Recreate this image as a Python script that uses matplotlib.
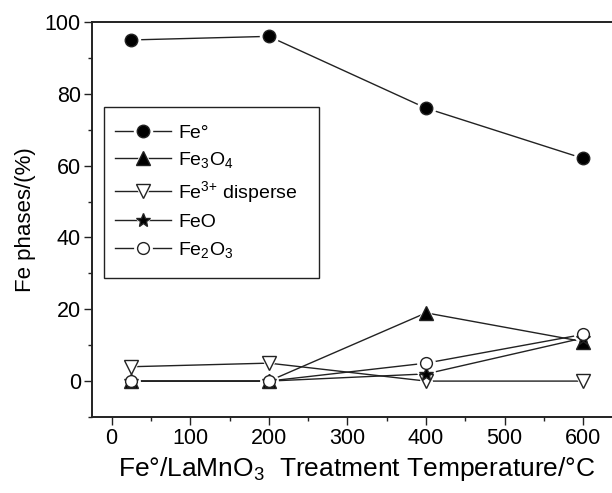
import matplotlib
matplotlib.use("Agg")
import matplotlib.pyplot as plt
from matplotlib.ticker import MultipleLocator
from matplotlib.legend_handler import HandlerTuple
from matplotlib.patches import Rectangle

plt.rcParams['font.family'] = 'Liberation Sans'
plt.rcParams['mathtext.fontset'] = 'custom'
plt.rcParams['mathtext.rm'] = 'Liberation Sans'

# treatment temperatures (°C)
temps = [25, 200, 400, 600]

# Fe phase percentages
fe0 = [95, 96, 76, 62]
fe3o4 = [0, 0, 19, 11]
fe3_disperse = [4, 5, 0, 0]
feo = [0, 0, 2, 12]
fe2o3 = [0, 0, 5, 13]

labels = ['Fe°', r'Fe$\mathregular{_3}$O$\mathregular{_4}$',
          r'Fe$\mathregular{^{3{+}}}$ disperse', 'FeO',
          r'Fe$\mathregular{_2}$O$\mathregular{_3}$']

series = [fe0, fe3o4, fe3_disperse, feo, fe2o3]
styles = [('o', 'k', 9), ('^', 'k', 9.5), ('v', 'white', 9.5), ('*', 'k', 10), ('o', 'white', 8.5)]

fig = plt.figure(figsize=(6.12, 4.93), dpi=100)
ax = fig.add_axes([92 / 612, 1 - 417 / 493, 530.6 / 612, 395 / 493])

handles = []
for vals, (m, fc, ms) in zip(series, styles):
    ln, = ax.plot(temps, vals, '-', color='#222222', lw=1.0, zorder=2)
    gap, = ax.plot(temps, vals, ls='none', marker=m, ms=ms + 4, mfc='white',
                   mec='white', zorder=3)
    mk, = ax.plot(temps, vals, ls='none', marker=m, ms=ms, mfc=fc,
                  mec='#222222', mew=1.0, zorder=4)
    handles.append((ln, gap, mk))

ax.set_xlim(-25, 650)
ax.set_ylim(-10, 100)
ax.xaxis.set_major_locator(MultipleLocator(100))
ax.xaxis.set_minor_locator(MultipleLocator(50))
ax.yaxis.set_major_locator(MultipleLocator(20))
ax.yaxis.set_minor_locator(MultipleLocator(10))
ax.tick_params(which='both', direction='out', top=False, right=False,
               labelsize=15.5, width=1.0, color='#222222', pad=2.5)
ax.tick_params(which='major', length=5.5)
ax.tick_params(which='minor', length=3)
for s in ax.spines.values():
    s.set_linewidth(1.4)
    s.set_color('#222222')

ax.set_xlabel(r'Fe°/LaMnO$\mathregular{_3}$  Treatment Temperature/°C', fontsize=19)
ax.xaxis.set_label_coords((357 - 92) / 530.6, -0.097)
ax.set_ylabel('Fe phases/(%)', fontsize=16, labelpad=6)

# legend frame drawn separately (Origin-style box with extra right margin)
ax.add_patch(Rectangle((0.0226, 0.352), 0.405, 0.433, transform=ax.transAxes,
                       fill=True, facecolor='white', edgecolor='#222222',
                       lw=1.0, zorder=5))
leg = ax.legend(handles, labels, handler_map={tuple: HandlerTuple(ndivide=1)},
                loc='upper left', bbox_to_anchor=(0.0433, 0.742),
                fontsize=14, frameon=False, handlelength=2.9,
                handletextpad=0.36, labelspacing=0.45, borderpad=0,
                borderaxespad=0)
leg.set_zorder(6)

fig.savefig('out.png', dpi=100)
